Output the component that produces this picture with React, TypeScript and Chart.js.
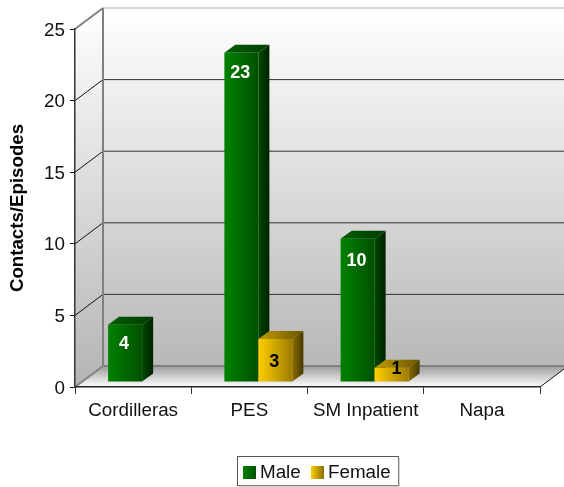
import React, { useEffect, useRef } from "react";
import { Chart, registerables } from "chart.js";

Chart.register(...registerables);

const categories = ["Cordilleras", "PES", "SM Inpatient", "Napa"];
const maleValues = [4, 23, 10, null];
const femaleValues = [null, 3, 1, null];
const yTickValues = [0, 5, 10, 15, 20, 25];
const FONT = "'Liberation Sans', Arial, sans-serif";

const DEPTH_X = 28, DEPTH_Y = 21;
const BAR_DX = 9, BAR_DY = 5, BAR_DEPTH_X = 11, BAR_DEPTH_Y = 8;

const linear = (ctx: any, x0: number, y0: number, x1: number, y1: number, c0: string, c1: string) => {
  const g = ctx.createLinearGradient(x0, y0, x1, y1);
  g.addColorStop(0, c0);
  g.addColorStop(1, c1);
  return g;
};
const poly = (ctx: any, pts: number[][], fill?: any) => {
  ctx.beginPath();
  pts.forEach((p, i) => (i ? ctx.lineTo(p[0], p[1]) : ctx.moveTo(p[0], p[1])));
  ctx.closePath();
  if (fill) { ctx.fillStyle = fill; ctx.fill(); }
};
const seg = (ctx: any, x0: number, y0: number, x1: number, y1: number, color: string, w: number) => {
  ctx.beginPath(); ctx.moveTo(x0, y0); ctx.lineTo(x1, y1);
  ctx.strokeStyle = color; ctx.lineWidth = w; ctx.stroke();
};

const palettes: Record<string, any> = {
  Male: { front: ["#008200", "#005000"], side: ["#004a00", "#002000"], top: ["#005e00", "#003c00"], label: "#ffffff" },
  Female: { front: ["#ffcf00", "#9c7c00"], side: ["#8a6e00", "#463800"], top: ["#c29c00", "#6a5400"], label: "#000000" },
};

const labelDrop = (h: number) => (h < 20 ? 1 : h < 50 ? 23 : h < 100 ? 19 : h < 200 ? 22 : 20);

const wallsPlugin = {
  id: "walls",
  beforeDraw(chart: any) {
    const { ctx, chartArea: a, scales } = chart;
    ctx.save();
    ctx.fillStyle = "#ffffff";
    ctx.fillRect(0, 0, chart.width, chart.height);
    const bx = a.left + DEPTH_X;
    const top = a.top - DEPTH_Y, bot = a.bottom - DEPTH_Y;
    poly(ctx, [[bx, top], [a.right + DEPTH_X, top], [a.right + DEPTH_X, bot], [bx, bot]], linear(ctx, 0, top, 0, bot, "#ffffff", "#b8b8b8"));
    poly(ctx, [[a.left, a.top], [bx, top], [bx, bot], [a.left, a.bottom]], linear(ctx, 0, top, 0, a.bottom, "#ffffff", "#b4b4b4"));
    poly(ctx, [[a.left, a.bottom], [a.right, a.bottom], [a.right + DEPTH_X, bot], [bx, bot]], linear(ctx, 0, bot, 0, a.bottom, "#9c9c9c", "#ffffff"));
    for (const v of yTickValues) {
      if (v === 0 || v === 25) continue;
      const y = scales.y.getPixelForValue(v);
      seg(ctx, a.left, y, bx, y - DEPTH_Y, "#111111", 1);
      seg(ctx, bx, y - DEPTH_Y, chart.width, y - DEPTH_Y, "#333333", 1);
    }
    seg(ctx, bx, top, chart.width, top, "#c8c8c8", 1.5);
    seg(ctx, a.left, a.top, bx, top, "#808080", 2);
    seg(ctx, bx, top, bx, bot, "#808080", 2);
    seg(ctx, bx, bot, chart.width, bot, "#808080", 2);
    seg(ctx, a.left, a.bottom, bx, bot, "#808080", 2);
    seg(ctx, a.right, a.bottom, a.right + DEPTH_X, bot, "#111111", 1);
    ctx.restore();
  },
  beforeDatasetsDraw(chart: any) {
    const { ctx } = chart;
    chart.data.datasets.forEach((ds: any, di: number) => {
      const pal = palettes[ds.label];
      chart.getDatasetMeta(di).data.forEach((el: any, i: number) => {
        if (ds.data[i] == null) return;
        const { x, y, base, width } = el.getProps(["x", "y", "base", "width"], true);
        const l = x - width / 2 + BAR_DX, r = x + width / 2 + BAR_DX;
        const t = y - BAR_DY, b = base - BAR_DY;
        poly(ctx, [[r, t], [r + BAR_DEPTH_X, t - BAR_DEPTH_Y], [r + BAR_DEPTH_X, b - BAR_DEPTH_Y], [r, b]], linear(ctx, r, 0, r + BAR_DEPTH_X, 0, pal.side[0], pal.side[1]));
        poly(ctx, [[l, t], [l + BAR_DEPTH_X, t - BAR_DEPTH_Y], [r + BAR_DEPTH_X, t - BAR_DEPTH_Y], [r, t]], linear(ctx, l, 0, r + BAR_DEPTH_X, 0, pal.top[0], pal.top[1]));
        poly(ctx, [[l, t], [r, t], [r, b], [l, b]], linear(ctx, l, 0, r, 0, pal.front[0], pal.front[1]));
      });
    });
  },
  beforeDatasetDraw() {
    return false;
  },
  afterDatasetsDraw(chart: any) {
    const { ctx } = chart;
    ctx.save();
    ctx.font = `bold 18px ${FONT}`;
    ctx.textAlign = "center";
    ctx.textBaseline = "middle";
    chart.data.datasets.forEach((ds: any, di: number) => {
      const pal = palettes[ds.label];
      chart.getDatasetMeta(di).data.forEach((el: any, i: number) => {
        if (ds.data[i] == null) return;
        const { x, y, base } = el.getProps(["x", "y", "base"], true);
        const h = base - y;
        ctx.fillStyle = pal.label;
        ctx.fillText(String(ds.data[i]), x + BAR_DX + (h < 20 ? 5 : -1), y - BAR_DY + labelDrop(h));
      });
    });
    ctx.restore();
  },
  afterDraw(chart: any) {
    const { ctx } = chart;
    ctx.save();
    const L = 237.5, T = 456.5, W = 161, H = 29;
    ctx.strokeStyle = "#555555";
    ctx.lineWidth = 1;
    ctx.strokeRect(L, T, W, H);
    seg(ctx, L + W + 0.5, T + 1, L + W + 0.5, T + H + 1, "#aaaaaa", 1);
    seg(ctx, L + 1, T + H + 0.5, L + W + 1, T + H + 0.5, "#aaaaaa", 1);
    ctx.font = `18.8px ${FONT}`;
    ctx.textBaseline = "middle";
    ctx.textAlign = "left";
    const swatchX = [243, 311];
    chart.data.datasets.forEach((ds: any, i: number) => {
      const pal = palettes[ds.label];
      const sx = swatchX[i];
      ctx.fillStyle = linear(ctx, sx, 0, sx + 13, 0, pal.front[0], i ? pal.side[0] : pal.front[1]);
      ctx.fillRect(sx, 466, 13, 13);
      ctx.fillStyle = "#111111";
      ctx.fillText(ds.label, sx + 17, 473);
    });
    ctx.restore();
  },
};

export default function App() {
  const ref = useRef<HTMLCanvasElement>(null);
  useEffect(() => {
    const chart = new Chart(ref.current as HTMLCanvasElement, {
      type: "bar",
      data: {
        labels: categories,
        datasets: [
          { label: "Male", data: maleValues, backgroundColor: "#008000", categoryPercentage: 0.585, barPercentage: 1 },
          { label: "Female", data: femaleValues, backgroundColor: "#ffcc00", categoryPercentage: 0.585, barPercentage: 1 },
        ],
      },
      options: {
        animation: false,
        responsive: false,
        layout: { padding: { top: 29, right: 24, bottom: 0, left: 0 } },
        plugins: { legend: { display: false }, tooltip: { enabled: false } },
        scales: {
          x: {
            grid: { drawOnChartArea: false, drawTicks: true, tickLength: 7, color: "#333333" },
            border: { color: "#222222", width: 1.5 },
            ticks: { color: "#111111", font: { family: FONT, size: 18.8 }, padding: 6, maxRotation: 0 },
            afterFit: (s: any) => { s.height = 100; },
          },
          y: {
            min: 0,
            max: 25,
            afterBuildTicks: (s: any) => { s.ticks = yTickValues.map((value) => ({ value })); },
            grid: { drawOnChartArea: false, drawTicks: true, tickLength: 5, color: "#111111" },
            border: { color: "#333333", width: 1.5 },
            ticks: { color: "#111111", font: { family: FONT, size: 18.8 }, padding: 5, labelOffset: 1.5 },
            title: { display: true, text: "Contacts/Episodes", color: "#000000", font: { family: FONT, size: 18.7, weight: "bold" }, padding: { top: 7, bottom: 0 } },
            afterFit: (s: any) => { s.width = 75; },
          },
        },
      },
      plugins: [wallsPlugin],
    } as any);
    return () => chart.destroy();
  }, []);
  return (
    <div style={{ position: "absolute", left: 0, top: 0, width: 564, height: 487, background: "#fff" }}>
      <canvas ref={ref} width={564} height={487} style={{ display: "block" }} />
    </div>
  );
}
